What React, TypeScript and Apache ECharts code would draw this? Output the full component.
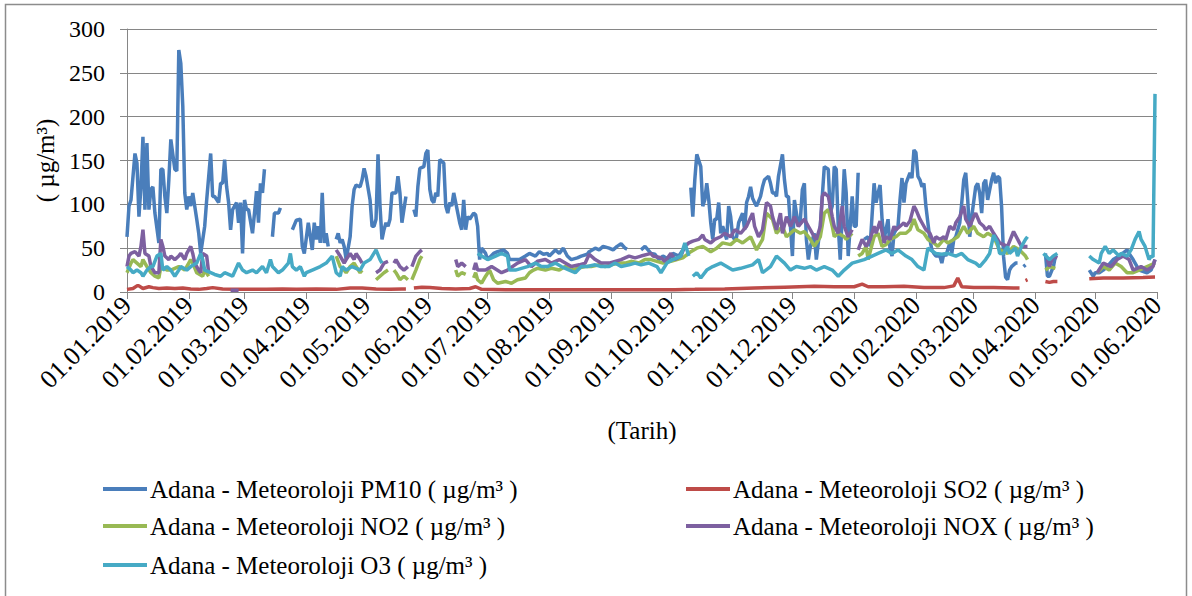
import React, { useEffect, useRef } from "react";
import * as echarts from "echarts";

// Day offsets from 01.01.2019 of the month starts shown on the x axis
const monthStarts = [0, 31, 59, 90, 120, 151, 181, 212, 243, 273, 304, 334, 365, 396, 425, 456, 486, 517];
const tickLabels = [
  "01.01.2019", "01.02.2019", "01.03.2019", "01.04.2019", "01.05.2019", "01.06.2019",
  "01.07.2019", "01.08.2019", "01.09.2019", "01.10.2019", "01.11.2019", "01.12.2019",
  "01.01.2020", "01.02.2020", "01.03.2020", "01.04.2020", "01.05.2020", "01.06.2020",
];

const seriesNames = [
  "Adana - Meteoroloji PM10 ( µg/m³ )",
  "Adana - Meteoroloji SO2 ( µg/m³ )",
  "Adana - Meteoroloji NO2 ( µg/m³ )",
  "Adana - Meteoroloji NOX ( µg/m³ )",
  "Adana - Meteoroloji O3 ( µg/m³ )",
];

// [day offset, value]; null = no measurement (gap)
const pm10 = [
  [0,63],[1,98],[2,105],[4,158],[5,147],[6,86],[7,120],[8,177],[9,94],[10,170],[11,94],[12,117],[13,120],[14,90],[16,56],[17,140],[18,140],[19,109],[20,90],[21,128],[22,174],[24,140],[25,138],[26,276],[27,261],[28,212],[29,113],[30,94],[31,109],[32,98],[33,113],[35,83],[36,67],[37,44],[39,75],[40,105],[42,158],[43,109],[44,109],[46,102],[47,124],[48,124],[49,151],[50,120],[51,102],[52,71],[53,94],[55,102],[56,79],[57,102],[58,44],[59,105],[60,94],[61,94],[63,67],[64,90],[65,115],[66,79],[67,124],[68,113],[69,140],[71,null],
  [73,63],[74,90],[76,90],[77,96],[80,null],
  [83,71],[85,82],[87,83],[88,52],[89,44],[91,79],[93,48],[94,79],[95,60],[96,75],[97,56],[98,113],[99,56],[100,67],[101,52],[103,null],
  [105,60],[106,67],[107,56],[108,60],[109,52],[110,37],[112,63],[113,98],[114,117],[115,122],[117,120],[118,128],[119,141],[120,132],[122,105],[123,75],[124,75],[125,83],[126,157],[127,98],[128,60],[129,71],[130,79],[131,75],[132,83],[133,113],[135,113],[136,132],[137,113],[138,79],[139,94],[140,109],[142,null],
  [144,94],[145,86],[146,120],[147,141],[149,143],[150,158],[151,162],[152,117],[153,105],[154,102],[155,113],[156,109],[157,151],[159,147],[160,98],[161,90],[162,102],[163,98],[164,113],[165,102],[167,79],[168,71],[169,105],[170,71],[171,86],[172,83],[174,90],[175,88],[176,75],[177,37],[178,50],[180,44],[181,37],[184,44],[186,46],[189,48],[191,44],[192,37],[195,37],[197,37],[200,41],[202,44],[205,41],[207,46],[209,43],[211,44],[212,41],[215,48],[217,44],[219,50],[221,41],[223,37],[226,39],[228,41],[231,43],[232,46],[235,50],[237,48],[239,52],[242,50],[244,48],[246,52],[248,55],[250,50],[251,49],[254,null],
  [258,48],[260,52],[263,44],[265,43],[267,37],[269,41],[272,37],[274,44],[277,41],[279,48],[281,52],[282,null],
  [283,119],[284,86],[285,128],[286,157],[288,143],[289,98],[290,105],[291,124],[292,105],[293,79],[294,60],[295,83],[296,83],[297,102],[298,67],[299,75],[301,60],[302,98],[303,86],[304,63],[305,60],[306,63],[307,79],[309,90],[310,71],[311,102],[312,109],[313,120],[314,107],[315,102],[316,98],[318,109],[319,120],[320,128],[322,132],[323,124],[324,113],[325,113],[326,109],[327,132],[329,157],[330,128],[331,109],[332,109],[333,75],[334,41],[335,105],[337,75],[338,83],[339,117],[340,124],[341,60],[342,37],[343,52],[345,67],[346,37],[347,56],[348,75],[349,109],[350,143],[352,140],[353,90],[354,98],[355,143],[356,140],[357,75],[358,37],[360,140],[361,113],[362,41],[363,75],[364,109],[365,75],[366,75],[367,136],[369,null],
  [370,60],[372,63],[373,52],[375,124],[376,102],[377,113],[378,122],[379,83],[380,60],[382,83],[383,48],[384,41],[385,67],[387,75],[388,105],[389,130],[390,102],[391,124],[393,136],[394,130],[395,162],[396,159],[397,132],[398,128],[399,120],[400,124],[401,98],[403,60],[404,48],[405,44],[406,41],[408,41],[409,33],[410,44],[411,41],[413,56],[414,44],[415,60],[416,63],[418,79],[419,102],[420,128],[421,136],[422,105],[423,63],[424,86],[426,120],[427,124],[428,113],[429,90],[430,124],[431,128],[432,105],[434,128],[435,136],[436,124],[437,132],[438,130],[439,97],[440,40],[441,17],[442,14],[443,25],[444,29],[446,33],[447,33],[448,null],
  [450,29],[451,31],[455,null],
  [461,44],[462,18],[463,18],[465,29],[466,41],[470,null],
  [483,25],[485,18],[486,22],[488,22],[490,25],[492,29],[495,37],[498,41],[502,48],[503,44],[505,37],[508,25],[512,22],[514,25],[516,37],
];

const so2 = [
  [0,3],[3,4],[5,7],[6,7],[8,4],[11,6],[13,5],[16,4],[20,4.5],[24,4],[28,4.5],[32,3.5],[36,3],[40,4],[43,5],[48,3.5],[55,3],[62,3],[70,3],[78,3.5],[85,3],[95,3.5],[105,3],[112,4.5],[118,4.5],[125,3.5],[132,3],[138,3.5],[140,3.5],[141,null],
  [144,4.5],[148,5.5],[152,5],[158,4],[165,3.5],[172,4],[175,6],[178,3],[190,2.5],[200,2.5],[215,2.7],[230,2.5],[245,2.7],[260,2.5],[275,2.7],[285,3],[300,3.5],[315,4.5],[330,5.5],[345,6.5],[355,6],[365,6],[369,9],[372,6],[380,6],[390,6.5],[400,5],[410,5],[415,7],[417,16],[419,6],[425,5],[435,5],[445,4.5],[448,4.5],[449,null],
  [451,13],[452,14],[455,null],
  [461,12],[463,11],[465,12],[467,12],[470,null],
  [483,15],[490,16],[500,16],[510,16.5],[516,17],
];

const no2 = [
  [0,22],[2,33],[3,37],[5,33],[7,29],[8,37],[10,29],[12,22],[14,18],[16,16],[17,29],[20,25],[22,25],[26,29],[29,25],[32,37],[33,33],[35,22],[38,18],[39,25],[41,18],[42,null],
  [105,41],[107,29],[109,25],[110,22],[112,29],[114,33],[115,29],[117,22],[118,25],[120,null],
  [125,14],[127,18],[129,22],[131,25],[132,null],
  [134,25],[135,22],[137,14],[139,18],[141,14],[142,null],
  [143,14],[145,25],[147,37],[148,41],[150,null],
  [165,25],[166,18],[168,22],[170,20],[172,null],
  [174,16],[175,22],[176,14],[178,10],[180,18],[182,25],[184,14],[186,10],[190,12],[193,10],[196,14],[200,16],[202,22],[204,25],[206,27],[210,25],[213,27],[217,25],[220,29],[223,25],[226,27],[230,29],[233,29],[237,31],[240,29],[243,31],[247,33],[250,33],[253,35],[257,33],[260,37],[263,37],[266,35],[269,33],[273,35],[276,37],[279,39],[283,46],[286,50],[289,52],[293,46],[296,50],[299,56],[303,54],[306,60],[309,56],[313,63],[316,48],[319,60],[321,90],[324,83],[326,67],[329,75],[331,63],[335,71],[338,67],[340,69],[343,60],[345,52],[348,63],[350,90],[352,94],[354,75],[355,63],[357,67],[360,63],[361,60],[364,67],[365,null],
  [367,41],[369,44],[371,52],[372,37],[375,63],[377,67],[379,52],[381,54],[383,60],[386,63],[388,67],[391,67],[393,71],[395,83],[397,71],[400,67],[402,60],[405,56],[407,52],[410,60],[412,56],[415,60],[417,63],[420,75],[422,67],[425,75],[427,67],[430,63],[432,67],[435,63],[438,48],[442,44],[445,52],[448,48],[451,41],[452,37],[454,null],
  [461,25],[463,29],[466,27],[468,null],
  [487,22],[490,29],[493,25],[496,33],[499,29],[502,22],[505,22],[508,25],[512,29],[516,33],
];

const nox = [
  [0,29],[1,41],[2,44],[4,46],[6,41],[7,52],[8,71],[9,44],[11,41],[12,29],[14,22],[16,22],[17,60],[18,52],[19,41],[21,37],[22,41],[24,37],[26,41],[27,44],[29,37],[30,44],[32,52],[33,44],[34,33],[36,25],[37,22],[38,44],[40,41],[41,22],[42,null],
  [52,2],[56,2],[57,null],
  [105,48],[107,41],[109,33],[110,37],[112,44],[114,37],[115,44],[117,37],[118,33],[120,null],
  [125,22],[127,25],[129,33],[131,35],[132,null],
  [134,33],[135,37],[137,29],[139,25],[141,29],[142,null],
  [143,29],[145,41],[147,46],[148,48],[150,null],
  [165,37],[166,29],[168,33],[170,29],[172,null],
  [174,25],[175,33],[176,25],[180,25],[183,29],[188,22],[191,25],[196,33],[200,37],[203,29],[206,35],[210,37],[213,33],[217,37],[220,33],[223,29],[227,31],[230,33],[232,43],[235,37],[238,33],[242,33],[245,35],[248,37],[252,41],[255,39],[258,41],[263,44],[264,41],[268,39],[270,35],[273,44],[275,37],[278,41],[280,52],[282,56],[284,58],[287,60],[289,65],[290,60],[293,56],[295,60],[298,63],[300,67],[303,63],[305,71],[308,67],[311,75],[314,90],[315,75],[317,63],[319,71],[321,102],[323,98],[324,86],[326,71],[328,90],[329,67],[331,86],[333,75],[335,86],[337,75],[340,83],[342,75],[345,63],[346,60],[348,75],[349,109],[350,113],[352,109],[354,86],[355,75],[357,67],[359,98],[360,75],[362,63],[364,71],[365,null],
  [367,48],[369,60],[371,52],[373,60],[375,75],[376,67],[378,81],[380,56],[381,63],[383,60],[385,75],[386,71],[388,75],[390,79],[391,75],[393,81],[395,98],[396,94],[398,83],[400,75],[401,71],[403,67],[405,56],[406,63],[408,60],[410,63],[411,60],[413,75],[415,71],[416,79],[418,86],[420,98],[421,83],[423,75],[425,86],[426,90],[428,79],[430,75],[431,71],[433,75],[435,67],[437,60],[438,56],[442,52],[445,69],[448,56],[449,52],[452,52],[454,null],
  [462,37],[463,29],[465,41],[467,39],[469,null],
  [487,22],[490,33],[494,29],[497,37],[500,41],[503,37],[505,25],[509,29],[512,25],[515,29],[516,37],
];

const o3 = [
  [0,29],[2,25],[3,22],[5,25],[7,22],[8,18],[10,25],[12,29],[13,29],[15,41],[17,44],[18,25],[20,29],[22,25],[24,18],[26,25],[27,29],[30,25],[32,29],[35,33],[37,44],[38,37],[39,25],[42,22],[44,20],[47,18],[49,22],[53,18],[56,33],[58,25],[60,22],[63,25],[65,22],[68,29],[70,22],[72,37],[73,29],[76,22],[78,25],[81,33],[82,44],[83,29],[85,25],[87,29],[89,18],[90,22],[93,25],[97,29],[100,33],[103,41],[105,22],[107,18],[108,29],[110,25],[113,29],[117,25],[119,33],[122,37],[125,48],[127,37],[128,33],[130,null],
  [176,44],[178,41],[181,37],[185,41],[188,44],[191,41],[192,25],[195,25],[198,27],[201,29],[205,33],[208,29],[211,29],[215,33],[218,29],[222,25],[225,22],[228,29],[231,29],[235,31],[238,29],[242,29],[245,33],[248,29],[252,31],[255,33],[258,31],[262,33],[266,29],[268,22],[271,33],[274,37],[278,41],[280,56],[282,41],[283,null],
  [284,18],[286,22],[288,16],[291,25],[294,29],[298,33],[301,29],[304,25],[308,27],[311,29],[314,31],[317,37],[319,22],[323,29],[326,41],[330,33],[333,25],[336,29],[340,27],[343,29],[346,25],[350,29],[354,25],[357,18],[360,25],[364,33],[367,35],[370,37],[374,41],[377,44],[381,48],[384,44],[387,48],[391,41],[394,37],[397,29],[400,25],[402,50],[406,44],[409,43],[412,44],[416,41],[419,44],[422,37],[426,33],[428,29],[431,37],[433,44],[435,65],[437,56],[438,44],[440,44],[442,52],[443,44],[446,50],[447,41],[449,52],[451,60],[452,63],[455,null],
  [460,44],[463,37],[465,41],[467,44],[470,null],
  [483,41],[485,37],[488,33],[489,44],[491,52],[493,44],[495,48],[498,41],[499,44],[502,41],[504,48],[506,60],[508,69],[509,60],[511,52],[513,37],[514,41],[515,40],[516,226],
];

const seriesData = [pm10, so2, no2, nox, o3];
const colors = ["#4A7EBB", "#BE4B48", "#98B954", "#7D60A0", "#46AAC5"];
const legendLeft = [103, 686, 103, 686, 103];
const legendTop = [476, 476, 513, 513, 552];

const FONT = "Liberation Serif, Times New Roman, serif";

export default function App() {
  const ref = useRef<HTMLDivElement>(null);
  useEffect(() => {
    if (!ref.current) return;
    const chart = echarts.init(ref.current, null, { renderer: "svg" });
    chart.setOption({
      animation: false,
      backgroundColor: "#ffffff",
      textStyle: { fontFamily: FONT },
      grid: { left: 127, right: 35, top: 29, bottom: 304, containLabel: false },
      graphic: [
        {
          type: "rect",
          silent: true,
          shape: { x: 5.5, y: 4.5, width: 1181, height: 640 },
          style: { fill: "none", stroke: "#8c8c8c", lineWidth: 1.5 },
        },
      ],
      legend: seriesNames.map((n, i) => ({
        data: [n],
        left: legendLeft[i],
        top: legendTop[i],
        icon: "rect",
        itemWidth: 44,
        itemHeight: 4,
        itemGap: 0,
        selectedMode: false,
        padding: 0,
        textStyle: { fontFamily: FONT, fontSize: 25, color: "#000", lineHeight: 26, padding: [0, 0, 0, -2] },
      })),
      xAxis: {
        type: "value",
        min: 0,
        max: 517,
        splitLine: { show: false },
        axisLine: { show: true, lineStyle: { color: "#868686", width: 1 } },
        axisTick: { show: true, customValues: monthStarts, length: 7, lineStyle: { color: "#868686" } },
        axisLabel: {
          customValues: monthStarts,
          rotate: 45,
          margin: 9,
          fontFamily: FONT,
          fontSize: 26,
          color: "#000",
          formatter: (v: number) => {
            const i = monthStarts.indexOf(Math.round(v));
            return i >= 0 ? tickLabels[i] : "";
          },
        },
        name: "(Tarih)",
        nameLocation: "middle",
        nameGap: 126,
        nameTextStyle: { fontFamily: FONT, fontSize: 25, color: "#000" },
      },
      yAxis: {
        type: "value",
        min: 0,
        max: 300,
        interval: 50,
        axisLine: { show: true, lineStyle: { color: "#868686", width: 1 } },
        axisTick: { show: true, length: 7, lineStyle: { color: "#868686" } },
        splitLine: { show: true, lineStyle: { color: "#868686", width: 1 } },
        axisLabel: { fontFamily: FONT, fontSize: 24, color: "#000", margin: 22 },
        name: "( µg/m³)",
        nameLocation: "middle",
        nameRotate: 90,
        nameGap: 66,
        nameTextStyle: { fontFamily: FONT, fontSize: 25, color: "#000" },
      },
      series: seriesNames.map((n, i) => ({
        name: n,
        type: "line",
        data: seriesData[i],
        showSymbol: false,
        symbol: "none",
        connectNulls: false,
        color: colors[i],
        lineStyle: { width: 3.5, color: colors[i] },
        itemStyle: { color: colors[i] },
        emphasis: { disabled: true },
      })),
    });
    return () => chart.dispose();
  }, []);
  return (
    <div
      ref={ref}
      style={{ position: "fixed", left: 0, top: 0, width: 1192, height: 596, background: "#fff" }}
    />
  );
}
